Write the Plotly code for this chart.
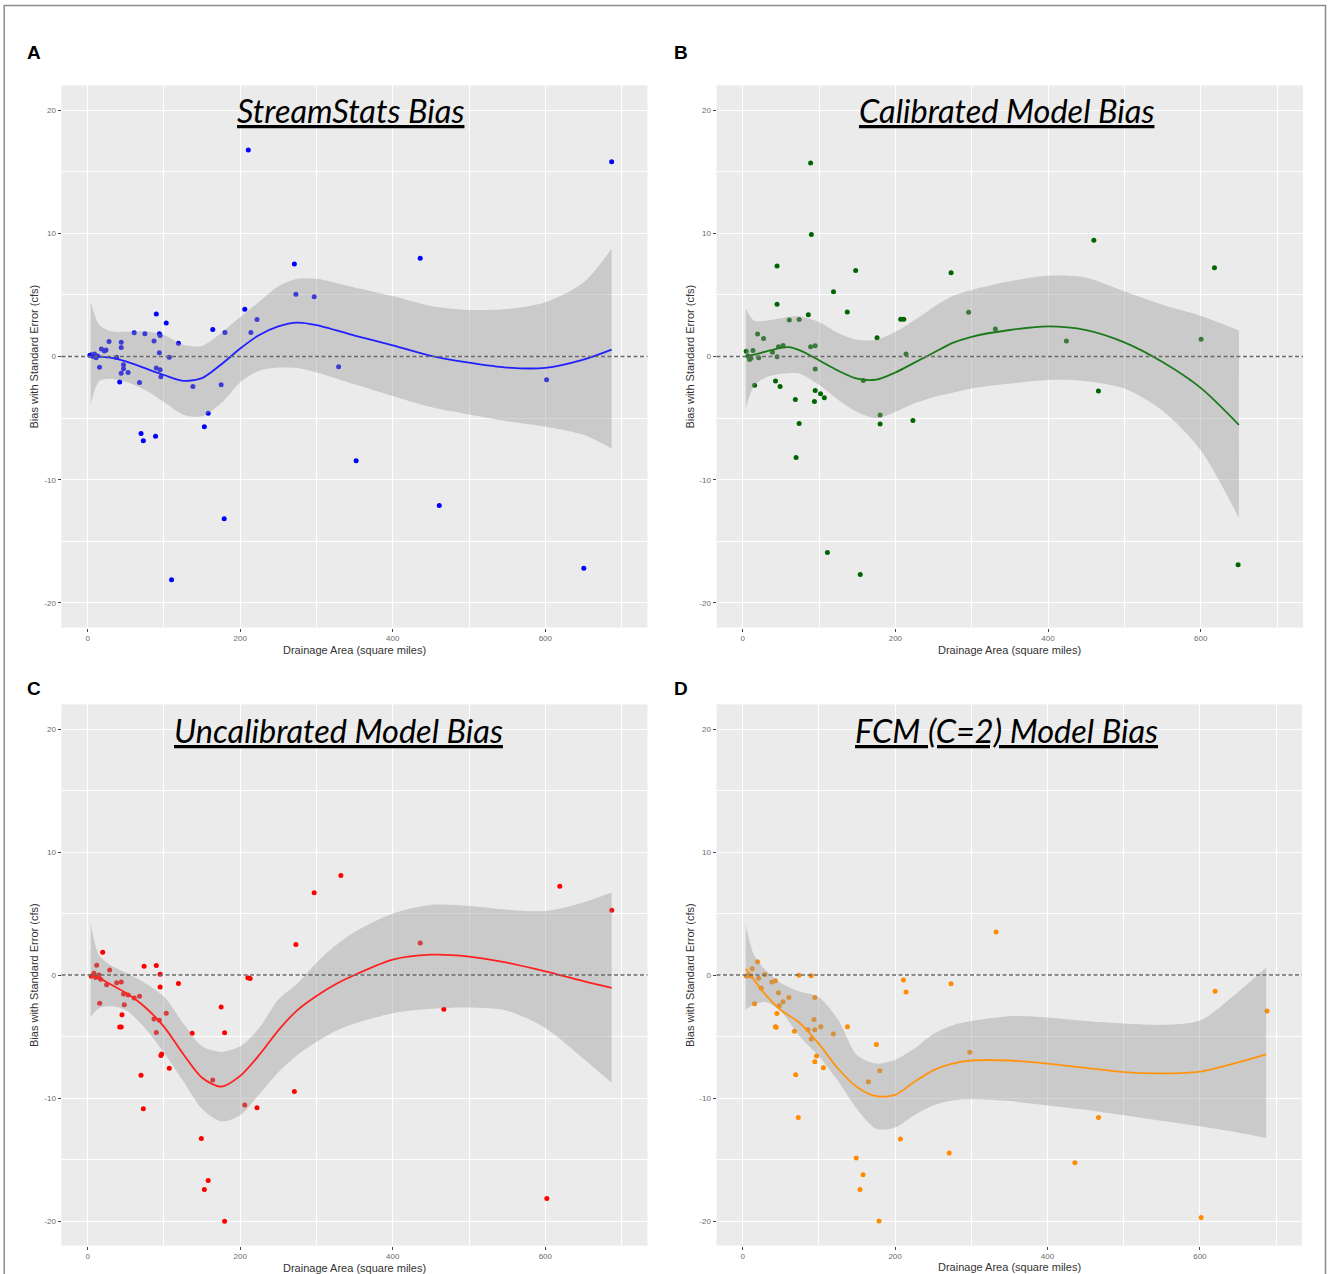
import plotly.graph_objects as go

W, H = 1328, 1274

# ---------------- Panel A : StreamStats ----------------
a_area = [210.6, 687, 271, 436, 273, 297, 206, 222, 214, 180, 164, 90, 103, 94, 95, 75, 61, 119, 87, 94,
          107, 28, 44, 44, 22, 18, 24, 38, 3, 5, 7, 9, 11, 13, 15.5, 47, 47, 44, 53, 42,
          68, 90, 95, 96, 138, 175, 158, 153, 70, 73, 89, 329, 352, 179, 110, 461, 650.5, 601.7]
a_bias = [16.76, 15.8, 7.5, 7.98, 5.05, 4.84, 3.83, 3.0, 1.95, 1.95, 2.2, 3.45, 2.72, 1.85, 1.7, 1.85, 1.92, 1.08, 1.25, 0.31,
          -0.07, 1.22, 1.15, 0.73, 0.45, 0.6, 0.52, -0.07, 0.1, 0.15, 0.0, 0.2, -0.1, 0.05, -0.87, -0.66, -1.0, -1.36, -1.29, -2.06,
          -2.1, -0.94, -1.08, -1.64, -2.44, -2.3, -4.6, -5.71, -6.24, -6.83, -6.48, -0.84, -8.47, -13.17, -18.12, -12.09, -17.18, -1.88]
a_fit_area = [4, 15, 30, 50, 75, 100, 125, 150, 175, 200, 225, 250, 275, 300, 350, 400, 450, 500, 550, 600, 650, 687]
a_fit = [0.08, 0.0, -0.1, -0.4, -0.95, -1.5, -1.97, -1.75, -0.65, 0.65, 1.75, 2.45, 2.75, 2.55, 1.7, 0.9, 0.05, -0.5, -0.9, -0.92, -0.25, 0.56]
a_fit_hi = [4.4, 2.6, 2.05, 2.0, 2.05, 1.75, 0.95, 0.85, 1.9, 3.2, 4.45, 5.7, 6.3, 6.3, 5.6, 4.9, 4.1, 3.78, 3.85, 4.4, 6.0, 8.75]
a_fit_lo = [-3.9, -2.0, -1.8, -2.05, -2.7, -3.7, -4.7, -4.85, -3.8, -2.1, -1.15, -0.9, -0.94, -1.3, -2.25, -3.2, -4.1, -4.7, -5.25, -5.7, -6.35, -7.46]

# ---------------- Panel B : Calibrated model ----------------
b_area = [89, 90, 460, 45, 148, 273, 618, 119, 45, 137, 296, 86, 61, 74, 207, 211, 331, 176, 424, 600.5,
          19.5, 27.4, 39, 47, 53, 89, 95, 45, 214, 4.7, 13.5, 9, 10.8, 21, 7, 95, 15.6, 43, 49, 95,
          102, 107, 94, 69, 74, 180, 180, 223, 158, 466, 70, 111, 154, 649]
b_bias = [15.7, 9.9, 9.44, 7.35, 6.97, 6.8, 7.2, 5.26, 4.25, 3.62, 3.59, 3.38, 2.96, 3.0, 3.03, 3.03, 2.23, 1.53, 1.25, 1.39,
          1.83, 1.46, 0.35, 0.8, 0.9, 0.8, 0.87, -0.03, 0.21, 0.43, 0.49, -0.25, -0.14, -0.1, 0.05, -1.01, -2.34, -1.99, -2.44, -2.75,
          -3.03, -3.34, -3.66, -3.48, -5.44, -4.74, -5.47, -5.19, -1.95, -2.79, -8.19, -15.9, -17.7, -16.9]
b_fit_area = [4, 15, 30, 50, 60, 75, 100, 125, 150, 175, 200, 225, 250, 275, 300, 350, 400, 450, 500, 550, 600, 650]
b_fit = [0.0, 0.15, 0.4, 0.7, 0.76, 0.5, -0.3, -1.15, -1.8, -1.88, -1.3, -0.5, 0.3, 1.1, 1.6, 2.15, 2.45, 2.15, 1.15, -0.45, -2.55, -5.55]
b_fit_hi = [3.9, 2.9, 2.9, 3.1, 3.2, 3.25, 2.8, 1.9, 1.35, 1.35, 2.0, 2.95, 4.0, 4.9, 5.4, 6.1, 6.55, 6.4, 5.3, 4.2, 3.3, 2.1]
b_fit_lo = [-4.2, -2.4, -1.7, -1.4, -1.35, -1.4, -2.3, -3.5, -4.5, -5.0, -4.5, -3.8, -3.3, -2.95, -2.6, -2.2, -1.9, -2.0, -2.6, -4.4, -7.6, -13.1]

# ---------------- Panel C : Uncalibrated model ----------------
c_area = [332, 297, 619, 687, 273, 436, 467, 19.7, 11.8, 28.8, 74, 90, 95, 95, 119, 210, 213, 4.8, 8.3, 10.5,
          14.8, 17, 24.9, 15.7, 38, 44, 47, 53, 61, 68, 48, 45, 42, 44, 87, 94, 90, 103, 96, 97,
          107, 137, 175, 179.5, 164, 70, 73, 271, 206, 222, 149, 158, 153, 179.5, 602]
c_bias = [8.09, 6.68, 7.21, 5.27, 2.48, 2.6, -2.79, 1.85, 0.8, 0.4, 0.72, 0.78, 0.06, -0.97, -0.69, -0.22, -0.28, -0.1, 0.14, -0.2,
          0.0, -0.35, -0.8, -2.3, -0.63, -0.56, -1.54, -1.63, -1.88, -1.72, -2.41, -3.23, -4.23, -4.23, -3.57, -3.67, -4.67, -3.1, -6.55, -6.43,
          -7.59, -4.73, -2.6, -4.7, -8.53, -8.15, -10.88, -9.47, -10.56, -10.8, -13.29, -16.7, -17.43, -20.03, -18.18]
c_fit_area = [4, 15, 30, 50, 75, 100, 125, 150, 175, 200, 225, 250, 275, 300, 325, 350, 400, 450, 500, 550, 600, 650, 687]
c_fit = [0.05, -0.25, -0.75, -1.45, -2.6, -4.2, -6.4, -8.35, -9.08, -8.2, -6.5, -4.5, -2.85, -1.7, -0.75, 0.0, 1.25, 1.65, 1.5, 1.0, 0.3, -0.5, -1.05]
c_fit_hi = [4.2, 1.6, 0.8, 0.2, -0.65, -1.75, -3.9, -5.8, -6.25, -5.8, -4.3, -2.0, -0.7, 1.0, 2.4, 3.5, 5.0, 5.7, 5.6, 5.3, 5.2, 5.9, 6.7]
c_fit_lo = [-3.4, -2.7, -2.55, -2.85, -4.3, -6.3, -8.6, -10.9, -11.9, -11.4, -9.7, -7.9, -6.5, -5.45, -4.55, -3.95, -3.1, -2.75, -2.65, -2.9, -4.3, -6.8, -8.75]

# ---------------- Panel D : FCM (C=2) model ----------------
d_area = [332.6, 688, 620, 211, 214.5, 273.5, 298, 467, 436, 601.7, 271, 207, 179, 154, 158, 149, 180, 175.5, 165, 137.6,
          119, 106, 97, 94.7, 90, 94.7, 93.6, 102.5, 85.8, 94.7, 90, 74, 69.6, 73, 68, 60.7, 53, 47, 45, 44,
          43, 38.4, 43, 48, 24.4, 19.5, 29.2, 20.8, 15.6, 12.6, 4.7, 7.7, 10.8]
d_bias = [3.49, -2.92, -1.32, -0.41, -1.38, -0.72, -6.28, -11.59, -15.26, -19.72, -14.47, -13.34, -20.0, -17.43, -16.23, -14.88, -7.79, -5.65, -8.67, -4.21,
          -4.8, -7.54, -6.59, -7.06, -5.21, -4.46, -3.61, -4.21, -4.46, -1.82, -0.06, -0.03, -8.1, -11.59, -4.58, -1.82, -2.17, -1.44, -3.14, -4.24,
          -4.2, -0.57, -0.47, -2.51, -1.08, 1.07, 0.05, -0.27, -2.33, 0.5, -0.08, 0.0, -0.08]
d_fit_area = [4, 15, 30, 50, 75, 100, 125, 150, 175, 200, 225, 250, 275, 300, 350, 400, 450, 500, 550, 600, 650, 687]
d_fit = [0.5, -0.4, -1.6, -2.85, -3.9, -5.6, -7.6, -9.1, -9.85, -9.75, -8.7, -7.75, -7.2, -6.95, -6.95, -7.2, -7.55, -7.9, -8.0, -7.85, -7.1, -6.45]
d_fit_hi = [4.1, 1.6, 0.4, -0.65, -1.35, -1.8, -3.6, -6.5, -7.2, -6.9, -6.0, -4.8, -4.1, -3.75, -3.35, -3.45, -3.75, -3.95, -4.05, -3.7, -1.4, 0.6]
d_fit_lo = [-2.8, -2.4, -2.2, -2.95, -5.0, -6.6, -8.6, -10.9, -12.5, -12.4, -11.4, -10.6, -10.2, -10.1, -10.25, -10.6, -10.95, -11.4, -11.85, -12.3, -12.8, -13.25]

# ---------------- axis ticks / labels ----------------
x_ticks = [0, 200, 400, 600]
x_ticklabels = ["0", "200", "400", "600"]
y_ticks = [-20, -10, 0, 10, 20]
y_ticklabels = ["-20", "-10", "0", "10", "20"]
x_title = "Drainage Area (square miles)"
y_title = "Bias with Standard Error (cfs)"

panels = [
    dict(letter="A", title="StreamStats Bias", color="#0000FF", line="#2020FF",
         area=a_area, bias=a_bias, fx=a_fit_area, fy=a_fit, fhi=a_fit_hi, flo=a_fit_lo,
         box=(61.5, 647.5, 85.4, 627.6), title_xy=(350.5, 111), letter_xy=(24.5, 53),
         ytitle_x=34, xtitle_y=649.5),
    dict(letter="B", title="Calibrated Model Bias", color="#006400", line="#1a7a1a",
         area=b_area, bias=b_bias, fx=b_fit_area, fy=b_fit, fhi=b_fit_hi, flo=b_fit_lo,
         box=(716.5, 1303, 85.4, 627.6), title_xy=(1006, 111), letter_xy=(671.5, 53),
         ytitle_x=690, xtitle_y=649.5),
    dict(letter="C", title="Uncalibrated Model Bias", color="#FF0000", line="#FF2020",
         area=c_area, bias=c_bias, fx=c_fit_area, fy=c_fit, fhi=c_fit_hi, flo=c_fit_lo,
         box=(61.5, 647.5, 704.4, 1245.6), title_xy=(338, 730), letter_xy=(24.5, 688),
         ytitle_x=34, xtitle_y=1268),
    dict(letter="D", title="FCM (C=2) Model Bias", color="#FF8C00", line="#FF9410",
         area=d_area, bias=d_bias, fx=d_fit_area, fy=d_fit, fhi=d_fit_hi, flo=d_fit_lo,
         box=(716.5, 1302, 704.4, 1245.6), title_xy=(1006, 730), letter_xy=(671.5, 688),
         ytitle_x=690, xtitle_y=1267),
]


def px(x):
    return x / W


def py(y):
    return 1 - y / H


fig = go.Figure()
layout = dict(
    width=W, height=H,
    margin=dict(l=0, r=0, t=0, b=0),
    paper_bgcolor="white", plot_bgcolor="#EBEBEB",
    showlegend=False,
    annotations=[], shapes=[],
)

tickfont = dict(family="Liberation Sans, Arial, sans-serif", size=8, color="#6b6b6b")

for i, p in enumerate(panels, start=1):
    sx = "" if i == 1 else str(i)
    xa, ya = "x" + sx, "y" + sx
    l, r, t, b = p["box"]
    layout["xaxis" + sx] = dict(
        domain=[px(l), px(r)], anchor=ya, range=[-34.3, 734],
        tickvals=x_ticks, ticktext=x_ticklabels, tickfont=tickfont,
        ticks="outside", ticklen=3, tickcolor="#444444", tickwidth=1,
        showgrid=True, gridcolor="white", gridwidth=1.2, zeroline=False, showline=False,
        minor=dict(tickvals=[100, 300, 500, 700], showgrid=True, gridcolor="white", gridwidth=0.6, ticks=""),
        automargin=False, fixedrange=True,
    )
    layout["yaxis" + sx] = dict(
        domain=[py(b), py(t)], anchor=xa, range=[-22, 22],
        tickvals=y_ticks, ticktext=y_ticklabels, tickfont=tickfont,
        ticks="outside", ticklen=3, tickcolor="#444444", tickwidth=1,
        showgrid=True, gridcolor="white", gridwidth=1.2, zeroline=False, showline=False,
        minor=dict(tickvals=[-15, -5, 5, 15], showgrid=True, gridcolor="white", gridwidth=0.6, ticks=""),
        automargin=False, fixedrange=True,
    )

    # points
    fig.add_trace(go.Scatter(x=p["area"], y=p["bias"], mode="markers", xaxis=xa, yaxis=ya,
                             marker=dict(size=5, color=p["color"], line=dict(width=0)),
                             hoverinfo="skip"))
    # confidence ribbon (lower edge, then upper edge filled down to it)
    fig.add_trace(go.Scatter(x=p["fx"], y=p["flo"], mode="lines", xaxis=xa, yaxis=ya,
                             line=dict(width=0, shape="spline", smoothing=0.8), hoverinfo="skip"))
    fig.add_trace(go.Scatter(x=p["fx"], y=p["fhi"], mode="lines", xaxis=xa, yaxis=ya,
                             fill="tonexty", fillcolor="rgba(153,153,153,0.4)",
                             line=dict(width=0, shape="spline", smoothing=0.8), hoverinfo="skip"))
    # smooth line
    fig.add_trace(go.Scatter(x=p["fx"], y=p["fy"], mode="lines", xaxis=xa, yaxis=ya,
                             line=dict(color=p["line"], width=1.8, shape="spline", smoothing=0.8),
                             hoverinfo="skip"))

    # dashed zero line
    layout["shapes"].append(dict(type="line", xref=xa + " domain", yref=ya, x0=0, x1=1, y0=0, y1=0,
                                 line=dict(color="#6a6a6a", width=1.5, dash="4px,2.5px"), layer="above"))

    # title
    tx, ty = p["title_xy"]
    layout["annotations"].append(dict(
        text="<u>" + p["title"] + "</u>", x=px(tx), y=py(ty), xref="paper", yref="paper",
        xanchor="center", yanchor="middle", showarrow=False,
        font=dict(family="Lato, sans-serif", size=32.5, color="black", style="italic")))
    # panel letter
    lx, ly = p["letter_xy"]
    layout["annotations"].append(dict(
        text="<b>" + p["letter"] + "</b>", x=px(lx), y=py(ly), xref="paper", yref="paper",
        xanchor="left", yanchor="middle", showarrow=False,
        font=dict(family="Liberation Sans, Arial, sans-serif", size=19, color="black")))
    # axis titles
    layout["annotations"].append(dict(
        text=y_title, x=px(p["ytitle_x"]), y=py((t + b) / 2), xref="paper", yref="paper",
        xanchor="center", yanchor="middle", textangle=-90, showarrow=False,
        font=dict(family="Liberation Sans, Arial, sans-serif", size=11, color="#333333")))
    layout["annotations"].append(dict(
        text=x_title, x=px((l + r) / 2), y=py(p["xtitle_y"]), xref="paper", yref="paper",
        xanchor="center", yanchor="middle", showarrow=False,
        font=dict(family="Liberation Sans, Arial, sans-serif", size=11, color="#333333")))

# outer frame
layout["shapes"].append(dict(type="rect", xref="paper", yref="paper",
                             x0=px(4.2), x1=px(1325.5), y0=py(1290), y1=py(5.5),
                             line=dict(color="#8c8c8c", width=1.5), fillcolor="rgba(0,0,0,0)", layer="above"))

fig.update_layout(**layout)
fig.write_html("out.html")
